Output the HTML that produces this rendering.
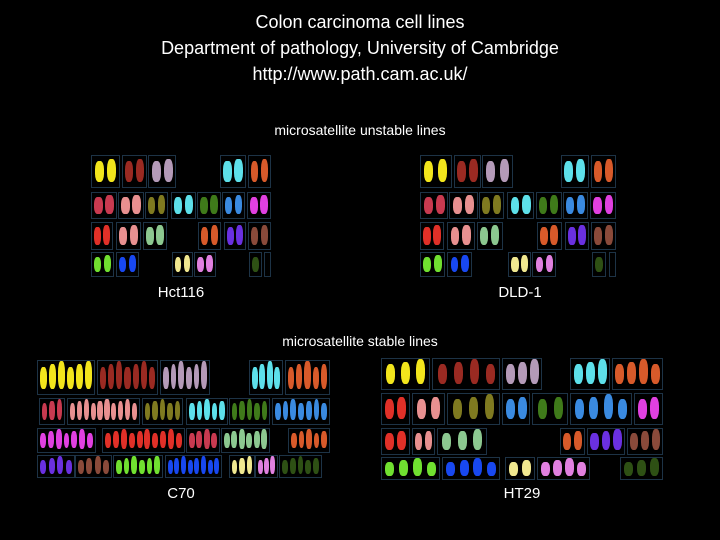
<!DOCTYPE html>
<html><head><meta charset="utf-8"><style>
html,body{margin:0;padding:0;background:#000;}
#s{position:relative;width:720px;height:540px;overflow:hidden;background:#000;font-family:"Liberation Sans",sans-serif;color:#fff;}
.t{position:absolute;left:0;width:720px;text-align:center;white-space:nowrap;}
.b{position:absolute;border:1px solid #1d3346;box-sizing:border-box;}
.c{position:absolute;border-radius:40%;}
</style></head><body><div id="s">
<div class="t" style="top:9px;font-size:18px;line-height:26px">Colon carcinoma cell lines<br>Department of pathology, University of Cambridge<br>http://www.path.cam.ac.uk/</div>
<div class="t" style="top:122px;font-size:14px">microsatellite unstable lines</div>
<div class="t" style="top:333px;font-size:14px">microsatellite stable lines</div>
<div class="t" style="top:284px;font-size:15px;left:-179px">Hct116</div>
<div class="t" style="top:284px;font-size:15px;left:160px">DLD-1</div>
<div class="t" style="top:485px;font-size:15px;left:-179px">C70</div>
<div class="t" style="top:485px;font-size:15px;left:162px">HT29</div>
<script>
var s=document.getElementById('s');
var Y='#f2e51c',DR='#9a2a22',LI='#b49ab8',CY='#5de0ea',OR='#d85a2a',CR='#c83a50',PK='#e89090',OL='#7f7a20',GR='#3f7a1a',BL='#3a8ae0',MG='#e040e0',RD='#e03028',LG='#8cc890',PU='#6a30e0',BR='#8a4a3a',LGR='#70e030',DB='#1848f0',PY='#f0e890',PP='#e080e0',DG='#2e5014';
function panel(x0,y0,sx,sy,rows){
 rows.forEach(function(r){r.b.forEach(function(b){
  var x=x0+b[0]*sx,w=b[1]*sx,y=y0+r.y*sy,h=r.h*sy;
  var d=document.createElement('div');d.className='b';d.style.cssText='left:'+x+'px;top:'+y+'px;width:'+w+'px;height:'+h+'px';s.appendChild(d);
  var n=b[3],cw=Math.min(9,(w-4)/n*0.75),gap=(w-4)/n;
  for(var i=0;i<n;i++){var c=document.createElement('div');c.className='c';
   var ch=h*0.78*(0.8+0.2*((i*7)%3)/2);
   c.style.cssText='left:'+(x+2+gap*i+(gap-cw)/2)+'px;top:'+(y+h*0.82-ch)+'px;width:'+cw+'px;height:'+ch+'px;background:'+b[2];s.appendChild(c);}
 });});
}
var H=[
 {y:0,h:33,b:[[0,29,Y,2],[31,25,DR,2],[57,28,LI,2],[129,26,CY,2],[157,23,OR,2]]},
 {y:37,h:27,b:[[0,26,CR,2],[27,26,PK,2],[54,23,OL,2],[80,25,CY,2],[106,24,GR,2],[131,23,BL,2],[156,24,MG,2]]},
 {y:67,h:28,b:[[0,22,RD,2],[25,25,PK,2],[52,24,LG,2],[107,23,OR,2],[133,22,PU,2],[157,23,BR,2]]},
 {y:97,h:25,b:[[0,23,LGR,2],[25,23,DB,2],[81,21,PY,2],[103,22,PP,2],[158,13,DG,1],[173,7,'#000',0]]}];
panel(91,155,1,1,H);
panel(420,155,1.09,1,H);
panel(37,360,1,1,[
 {y:0,h:35,b:[[0,58,Y,6],[60,61,DR,7],[123,50,LI,6],[212,34,CY,4],[248,45,OR,5]]},
 {y:38,h:27,b:[[2,26,CR,3],[30,73,PK,10],[105,41,OL,5],[149,42,CY,5],[192,41,GR,5],[235,58,BL,7]]},
 {y:68,h:25,b:[[0,59,MG,7],[65,83,RD,10],[149,34,CR,4],[184,49,LG,6],[251,42,OR,5]]},
 {y:95,h:23,b:[[0,38,PU,4],[38,37,BR,4],[76,50,LGR,6],[128,57,DB,8],[192,26,PY,3],[218,23,PP,3],[242,43,DG,5]]}]);
panel(381,358,1,1,[
 {y:0,h:32,b:[[0,49,Y,3],[51,68,DR,4],[121,40,LI,3],[189,40,CY,3],[231,51,OR,4]]},
 {y:35,h:32,b:[[0,29,RD,2],[31,33,PK,2],[66,53,OL,3],[121,28,BL,2],[151,36,GR,2],[189,62,BL,4],[253,29,MG,2]]},
 {y:70,h:27,b:[[0,29,RD,2],[31,23,PK,2],[56,50,LG,3],[179,25,OR,2],[206,38,PU,3],[246,36,BR,3]]},
 {y:99,h:23,b:[[0,59,LGR,4],[61,58,DB,4],[124,30,PY,2],[156,53,PP,4],[239,43,DG,3]]}]);
</script>
</div></body></html>
